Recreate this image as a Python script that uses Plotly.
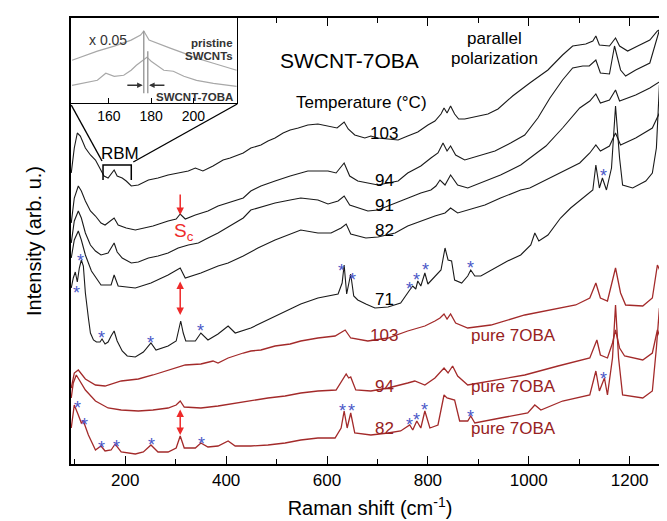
import plotly.graph_objects as go

# ---------------- data (Raman shift in cm-1, intensity in arb. u.) ----------------
b103_x = [93,99,105,111,121,131,141,150,158,166,174,178,184,194,202,212,226,246,265,285,305,325,339,354,374,394,408,434,449,469,483,497,513,527,543,562,582,602,620,634,642,655,675,687,701,721,741,760,780,800,814,826,832,838,845,853,861,873,899,919,939,968,1002,1038,1067,1087,1113,1127,1133,1140,1160,1166,1172,1180,1196,1216,1240,1255,1267,1278]
b103_y = [291,316,331,328,316,309,304,296,288,286,292,294,288,286,283,278,279,284,286,289,291,293,296,293,298,304,306,311,316,319,323,326,331,334,336,339,340,338,336,342,335,329,326,328,326,325,324,328,332,339,343,350,356,351,358,350,345,345,348,350,355,368,381,394,409,418,420,423,428,419,418,422,426,418,413,418,424,433,436,439]

b94_x = [93,99,107,113,121,131,141,152,160,172,178,186,202,220,236,255,285,301,309,319,339,364,384,404,434,449,469,497,527,562,602,618,634,645,661,681,701,721,741,760,786,806,820,830,838,845,855,873,899,933,964,992,1018,1042,1067,1087,1107,1120,1133,1142,1160,1166,1170,1176,1182,1192,1212,1240,1251,1259,1267,1278]
b94_y = [241,266,278,273,263,253,248,241,239,244,246,239,236,234,236,238,243,245,250,245,249,253,258,261,266,273,278,283,288,293,293,291,301,288,283,281,279,281,283,291,298,306,311,321,313,318,309,304,308,313,321,329,346,366,384,396,398,398,404,391,390,406,418,406,394,388,394,401,421,434,426,428]

b91_x = [93,99,107,113,121,131,141,152,166,172,178,184,194,212,226,246,265,285,305,325,345,364,384,404,434,449,469,497,527,548,582,602,622,634,645,661,681,701,735,760,786,806,816,824,834,845,859,879,913,944,984,1002,1034,1067,1101,1121,1133,1142,1160,1172,1180,1212,1240,1265,1278]
b91_y = [221,243,253,246,231,219,213,209,211,216,221,212,206,201,202,206,208,211,216,219,221,226,231,237,246,254,257,261,264,266,264,260,263,268,259,256,253,254,261,266,271,274,278,284,279,289,279,276,283,289,299,306,318,336,356,363,370,361,364,374,363,369,376,384,389]

b82_x = [93,99,107,113,121,133,152,172,178,186,220,251,285,309,319,350,384,404,434,463,497,527,548,582,608,628,638,647,677,701,735,760,786,814,834,845,859,879,913,944,984,1002,1034,1067,1101,1121,1133,1142,1160,1172,1182,1212,1245,1259,1267,1278]
b82_y = [206,224,233,224,209,193,179,179,189,178,176,181,189,196,186,191,198,201,208,216,224,230,234,231,231,236,240,230,226,227,231,238,243,248,251,256,251,254,259,266,274,276,284,292,301,311,319,313,318,331,319,326,336,351,348,349]

b71_x = [93,97,101,105,109,113,117,121,127,131,137,143,150,154,160,166,172,178,184,194,204,220,236,251,261,285,301,306,310,315,320,339,350,364,384,404,418,449,483,517,548,582,602,622,630,634,639,647,653,661,677,695,721,746,764,770,776,780,786,794,800,814,826,834,840,847,853,867,879,885,893,905,933,958,984,1004,1012,1020,1038,1063,1083,1101,1127,1133,1140,1146,1154,1164,1172,1180,1186,1206,1232,1245,1253,1259,1267,1278]
b71_y = [176,186,192,182,196,204,198,171,146,131,124,122,122,125,120,122,128,133,123,113,108,107,112,121,114,118,123,134,143,131,123,123,131,124,130,138,131,136,144,152,160,166,168,170,181,199,170,190,168,164,160,156,157,161,174,178,175,183,178,191,180,188,194,216,204,203,184,181,188,194,188,188,196,203,209,219,231,223,229,246,256,263,274,299,276,286,274,296,358,306,279,276,283,291,316,379,348,324]

r103_x = [93,99,107,121,141,160,192,226,255,285,319,350,374,384,404,434,449,469,497,527,548,582,616,636,647,681,721,760,794,814,824,832,838,845,855,879,925,992,1058,1093,1121,1133,1142,1156,1172,1182,1192,1226,1245,1255,1267,1278]
r103_y = [76,91,94,85,79,78,83,85,89,94,99,100,103,101,106,111,113,114,118,120,123,126,128,134,126,123,126,133,138,143,146,150,145,150,141,136,139,149,156,159,166,181,166,163,196,171,159,158,166,199,186,198]

r94_x = [93,97,103,121,141,166,192,226,255,285,301,309,317,350,384,418,449,483,517,548,582,618,638,643,647,657,687,721,760,774,794,814,832,840,849,859,879,925,992,1058,1121,1135,1142,1156,1166,1172,1180,1190,1226,1245,1255,1265,1278]
r94_y = [66,81,89,74,63,56,54,53,54,56,59,63,57,56,58,61,63,66,68,71,73,74,90,86,87,74,73,76,81,83,79,86,96,91,98,88,79,83,89,98,106,124,109,106,121,134,116,108,104,111,134,121,131]

r82_x = [93,99,107,113,117,127,141,152,160,172,180,192,220,236,251,265,285,301,309,317,339,350,364,384,404,418,449,483,517,548,582,616,628,634,640,647,655,687,721,746,764,770,778,786,794,804,820,832,838,853,863,879,885,893,944,998,1012,1024,1067,1121,1133,1140,1150,1156,1166,1172,1178,1186,1226,1245,1253,1259,1267,1278]
r82_y = [36,59,49,41,43,29,14,18,13,14,20,12,10,12,19,12,12,16,28,16,16,21,17,18,23,18,18,19,21,24,26,26,36,53,36,51,31,29,31,33,39,34,43,36,53,36,39,69,66,64,43,43,48,41,46,51,59,54,63,69,93,73,86,69,106,159,106,69,66,73,116,156,106,89]

# inset (RBM region)
ins_pristine_x = [142.5,148,154.5,162.5,170.5,175,176.5,179,182.5,189,195.5,201.5,209.5,220.5]
ins_pristine_y = [43,47,52,57,63,68,72,63,60,55,50,45,40,33]
ins_mix_x = [142.5,148,154.5,158.5,162.5,167,170.5,173,175.5,178,180,183.5,186,190.5,195.5,201.5,209.5,220.5]
ins_mix_y = [18,20,23,30,27,28,33,38,42,46,42,37,33,32,27,23,20,17]

temps_black = ["103", "94", "91", "82", "71"]
temps_red = ["103", "94", "82"]
x_ticks = [200, 400, 600, 800, 1000, 1200]
x_minor = [100, 300, 500, 700, 900, 1100]
inset_ticks = [160, 180, 200]

# asterisks marking 7OBA bands
star_x = [111,103,152,251,350,628,651,764,778,796,885,1148,
          105,119,152,182,253,352,630,649,764,778,794,885,1148]
star_y = [208,176,131,126,138,198,189,180,189,199,201,293,
          61,44,21,22,24,25,58,58,44,49,59,52,90]

# ---------------- figure ----------------
BLACK = '#1a1a1a'
RED = '#a32a2a'
LABRED = '#972222'
ARROW = '#ee2a2a'
STAR = '#4a58c8'
FONT = 'Liberation Sans, Arial, sans-serif'

fig = go.Figure()
for xs, ys in [(b103_x, b103_y), (b94_x, b94_y), (b91_x, b91_y), (b82_x, b82_y), (b71_x, b71_y)]:
    fig.add_trace(go.Scatter(x=xs, y=ys, mode='lines', line=dict(color=BLACK, width=1.1),
                             hoverinfo='skip', showlegend=False))
for xs, ys in [(r103_x, r103_y), (r94_x, r94_y), (r82_x, r82_y)]:
    fig.add_trace(go.Scatter(x=xs, y=ys, mode='lines', line=dict(color=RED, width=1.3),
                             hoverinfo='skip', showlegend=False))
for xs, ys in [(ins_pristine_x, ins_pristine_y), (ins_mix_x, ins_mix_y)]:
    fig.add_trace(go.Scatter(x=xs, y=ys, mode='lines', line=dict(color='#a8a8a8', width=1.2),
                             xaxis='x2', yaxis='y2', hoverinfo='skip', showlegend=False))

ann = []
def txt(x, y, t, size, color='black', xref='x', yref='y', xanchor='center', **kw):
    d = dict(x=x, y=y, text=t, xref=xref, yref=yref, showarrow=False, xanchor=xanchor,
             yanchor='middle', font=dict(size=size, color=color, family=FONT))
    d.update(kw)
    ann.append(d)

# temperature labels
for t, yy in zip(temps_black, [331, 284, 259, 234, 165]):
    txt(713, yy, t, 17)
for t, yy in zip(temps_red, [129, 78, 36]):
    txt(713, yy, t, 17, LABRED)
    txt(970, yy, 'pure 7OBA', 17, LABRED)

txt(645, 404, 'SWCNT-7OBA', 21)
txt(933, 426, 'parallel', 17)
txt(933, 406, 'polarization', 17)
txt(669, 362, 'Temperature (\u00b0C)', 17)
txt(190, 311, 'RBM', 17)
txt(317, 232, 'S<sub>c</sub>', 19, ARROW)

for sx, sy in zip(star_x, star_y):
    txt(sx, sy, '*', 18, STAR, yshift=-5)

# red arrows
ann.append(dict(x=309, y=249, ax=309, ay=271, xref='x', yref='y', axref='x', ayref='y',
                showarrow=True, arrowhead=2, arrowsize=1, arrowwidth=1.5, arrowcolor=ARROW, text=''))
ann.append(dict(x=309, y=149, ax=309, ay=184, xref='x', yref='y', axref='x', ayref='y',
                showarrow=True, arrowhead=2, startarrowhead=2, arrowside='end+start',
                arrowsize=1, startarrowsize=1, arrowwidth=1.5, arrowcolor=ARROW, text=''))
ann.append(dict(x=309, y=29, ax=309, ay=56, xref='x', yref='y', axref='x', ayref='y',
                showarrow=True, arrowhead=2, startarrowhead=2, arrowside='end+start',
                arrowsize=1, startarrowsize=1, arrowwidth=1.5, arrowcolor=ARROW, text=''))

# inset texts and arrows
txt(159.5, 63, 'x 0.05', 14, '#333333', xref='x2', yref='y2')
txt(219.8, 60, '<b>pristine</b>', 11.5, '#333333', xref='x2', yref='y2', xanchor='right')
txt(219.8, 47, '<b>SWCNTs</b>', 11.5, '#333333', xref='x2', yref='y2', xanchor='right')
txt(219.8, 6, '<b>SWCNT-7OBA</b>', 11.5, '#333333', xref='x2', yref='y2', xanchor='right')
ann.append(dict(x=176, y=18, ax=168, ay=18, xref='x2', yref='y2', axref='x2', ayref='y2',
                showarrow=True, arrowhead=2, arrowsize=0.8, arrowwidth=1.4, arrowcolor='#333333', text=''))
ann.append(dict(x=179, y=18, ax=187, ay=18, xref='x2', yref='y2', axref='x2', ayref='y2',
                showarrow=True, arrowhead=2, arrowsize=0.8, arrowwidth=1.4, arrowcolor='#333333', text=''))

shapes = [
    dict(type='line', xref='x2', yref='y2', x0=176.5, x1=176.5, y0=10, y1=72, line=dict(color='#999999', width=1.4)),
    dict(type='line', xref='x2', yref='y2', x0=178.4, x1=178.4, y0=10, y1=52, line=dict(color='#999999', width=1.4)),
    # RBM bracket
    dict(type='path', xref='x', yref='y', path='M 156,284 L 156,299 L 212,299 L 212,284',
         line=dict(color='black', width=1.5)),
    # zoom lines to inset
    dict(type='line', xref='x', yref='y', x0=93, y0=359, x1=154, y1=303, line=dict(color='black', width=1.4)),
    dict(type='line', xref='x', yref='y', x0=216, y0=302, x1=422, y1=360, line=dict(color='black', width=1.4)),
]

fig.update_layout(
    template='none',
    width=667, height=521,
    margin=dict(l=63, r=6, t=10, b=65),
    paper_bgcolor='white', plot_bgcolor='white',
    font=dict(family=FONT, color='black'),
    showlegend=False,
    annotations=ann,
    shapes=shapes,
    xaxis=dict(range=[92.5, 1278], tickmode='array', tickvals=x_ticks, ticktext=[str(v) for v in x_ticks],
               ticks='inside', ticklen=8, tickwidth=1.3, tickcolor='black',
               showline=True, linecolor='black', linewidth=1.5, mirror='ticks',
               showgrid=False, zeroline=False, tickfont=dict(size=17, family=FONT),
               minor=dict(tickmode='array', tickvals=x_minor, ticks='inside', ticklen=5,
                          tickwidth=1.2, tickcolor='black', showgrid=False),
               title=dict(text='Raman shift (cm<sup>-1</sup>)', font=dict(size=20, family=FONT), standoff=12),
               automargin=False),
    yaxis=dict(range=[0, 446], showticklabels=False, ticks='', showline=True, linecolor='black',
               linewidth=1.5, mirror=True, showgrid=False, zeroline=False,
               title=dict(text='Intensity (arb. u.)', font=dict(size=20, family=FONT), standoff=22),
               automargin=False),
    xaxis2=dict(domain=[0, 0.2776], anchor='y2', range=[142, 220.7], tickmode='array',
                tickvals=inset_ticks, ticks='inside', ticklen=5, tickwidth=1.2, tickcolor='black',
                showline=True, linecolor='black', linewidth=1.4, mirror=True, showgrid=False,
                zeroline=False, tickfont=dict(size=14, family=FONT), automargin=False),
    yaxis2=dict(domain=[0.8085, 1], anchor='x2', range=[0, 85], showticklabels=False, ticks='',
                showline=True, linecolor='black', linewidth=1.4, mirror=True, showgrid=False,
                zeroline=False, automargin=False),
)

fig.write_html("out.html")
